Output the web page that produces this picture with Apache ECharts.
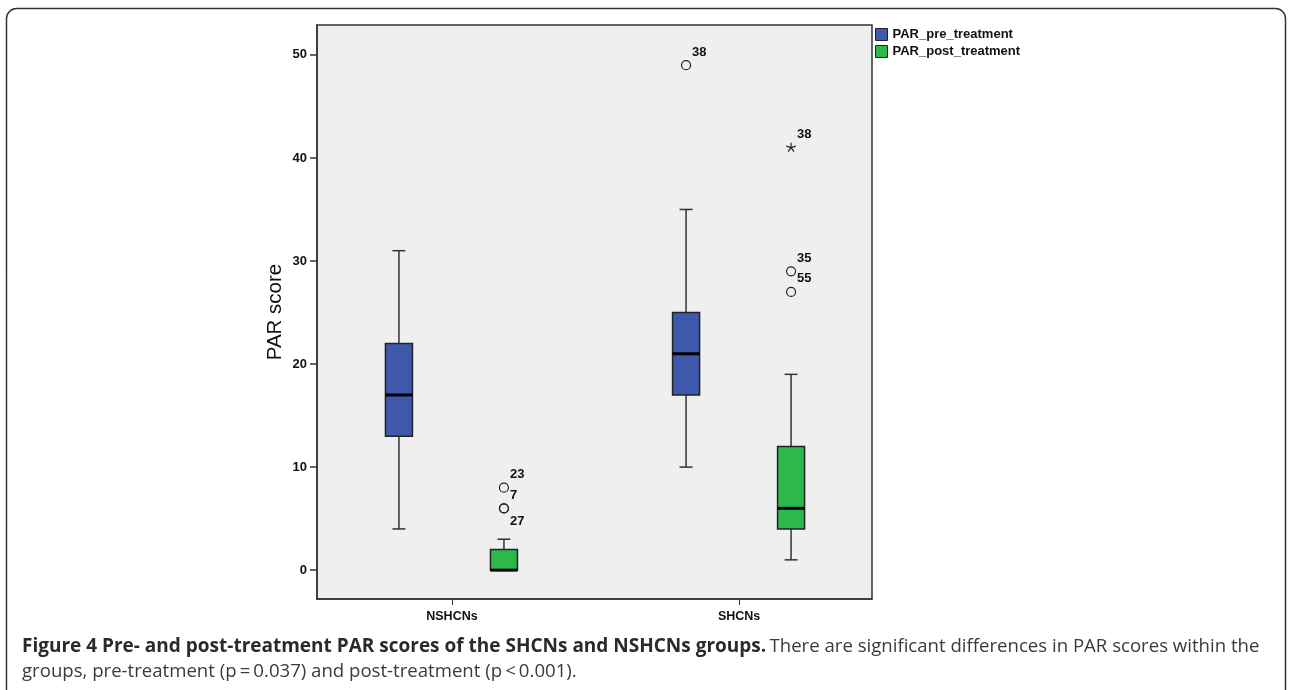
<!DOCTYPE html>
<html><head><meta charset="utf-8">
<script src="https://cdn.jsdelivr.net/npm/echarts@6/dist/echarts.min.js"></script>
<style>html,body{margin:0;padding:0;background:#fff}#c{width:1289px;height:690px}</style>
</head><body><div id="c"></div>
<script>
// ---- data ----
const categories = ['NSHCNs', 'SHCNs'];
const seriesNames = ['PAR_pre_treatment', 'PAR_post_treatment'];
// per category: [min, Q1, median, Q3, max]
const preBox = [[4, 13, 17, 22, 31], [10, 17, 21, 25, 35]];
const postBox = [[0, 0, 0, 2, 3], [1, 4, 6, 12, 19]];
// outliers: [categoryIndex, value, caseLabel, marker, labelSide]
const preOutliers = [[1, 49, '38', 'o', 'up']];
const postOutliers = [
  [0, 8, '23', 'o', 'up'], [0, 6, '7', 'o', 'up'], [0, 6, '27', 'o', 'down'],
  [1, 41, '38', '*', 'up'], [1, 29, '35', 'o', 'up'], [1, 27, '55', 'o', 'up']
];
const yTicks = [0, 10, 20, 30, 40, 50];
const xTicks = [0, 1];
const captionBold = 'Figure 4 Pre- and post-treatment PAR scores of the SHCNs and NSHCNs groups.';
const captionLine1 = 'There are significant differences in PAR scores within the';
const captionLine2 = 'groups, pre-treatment (p\u2009=\u20090.037) and post-treatment (p\u2009<\u20090.001).';

// ---- style ----
const colors = ['#3e58ab', '#2db84b'];
const offsets = [-53, 52];
const lineStroke = '#333';
const labelFont = 'Arial, "Liberation Sans", sans-serif';

function boxRender(offset, color) {
  return function (params, api) {
    const ci = api.value(0);
    const x = api.coord([ci, 0])[0] + offset;
    const y = v => api.coord([ci, v])[1];
    const ymin = y(api.value(1)), q1 = y(api.value(2)), med = y(api.value(3)),
      q3 = y(api.value(4)), ymax = y(api.value(5));
    const hw = 13.5, cw = 6.5;
    const ls = { stroke: lineStroke, lineWidth: 1.5 };
    const ch = [];
    if (ymax < q3 - 0.5) {
      ch.push({ type: 'line', shape: { x1: x, y1: q3, x2: x, y2: ymax }, style: ls });
      ch.push({ type: 'line', shape: { x1: x - cw, y1: ymax, x2: x + cw, y2: ymax }, style: ls });
    }
    if (ymin > q1 + 0.5) {
      ch.push({ type: 'line', shape: { x1: x, y1: q1, x2: x, y2: ymin }, style: ls });
      ch.push({ type: 'line', shape: { x1: x - cw, y1: ymin, x2: x + cw, y2: ymin }, style: ls });
    }
    ch.push({ type: 'rect', shape: { x: x - hw, y: q3, width: 2 * hw, height: q1 - q3 },
      style: { fill: color, stroke: '#222', lineWidth: 1.5 } });
    ch.push({ type: 'line', shape: { x1: x - hw, y1: med, x2: x + hw, y2: med },
      style: { stroke: '#000', lineWidth: 3 } });
    return { type: 'group', children: ch };
  };
}

function outlierRender(offset, list) {
  return function (params, api) {
    const d = list[params.dataIndex];
    const p = api.coord([d[0], d[1]]);
    const x = p[0] + offset, y = p[1];
    const ch = [];
    if (d[3] === 'o') {
      ch.push({ type: 'circle', shape: { cx: x, cy: y, r: 4.5 },
        style: { fill: 'none', stroke: '#222', lineWidth: 1.2 } });
    } else {
      for (let k = 0; k < 5; k++) {
        const a = (-90 + k * 72) * Math.PI / 180;
        ch.push({ type: 'line', shape: { x1: x, y1: y, x2: x + 5 * Math.cos(a), y2: y + 5 * Math.sin(a) },
          style: { stroke: '#222', lineWidth: 1.2 } });
      }
    }
    ch.push({ type: 'text', style: { text: d[2], x: x + 6, y: y + (d[4] === 'up' ? -13 : 13),
      fill: '#111', font: 'bold 13px ' + labelFont,
      align: 'left', verticalAlign: 'middle' } });
    return { type: 'group', children: ch };
  };
}

const chart = echarts.init(document.getElementById('c'));
chart.setOption({
  animation: false,
  backgroundColor: '#fff',
  grid: { left: 317, top: 25, width: 555, height: 574, show: true,
    backgroundColor: '#efefef', borderColor: '#333', borderWidth: 1.5 },
  legend: {
    data: seriesNames, orient: 'vertical', left: 875, top: 28, padding: 0,
    icon: 'rect', itemWidth: 12, itemHeight: 12, itemGap: 4,
    itemStyle: { borderColor: '#222', borderWidth: 1 },
    textStyle: { fontFamily: labelFont, fontWeight: 'bold', fontSize: 13, color: '#111' }
  },
  xAxis: {
    type: 'value', min: -0.470, max: 1.463,
    splitLine: { show: false },
    axisLine: { show: true, onZero: false, lineStyle: { color: '#333', width: 1.5 } },
    axisTick: { show: true, customValues: xTicks, length: 6, lineStyle: { color: '#333' } },
    axisLabel: { customValues: xTicks, formatter: v => categories[v] || '', margin: 11,
      fontFamily: labelFont, fontWeight: 'bold', fontSize: 12.5, color: '#111' }
  },
  yAxis: {
    type: 'value', min: -2.8, max: 52.9,
    name: 'PAR score', nameLocation: 'middle', nameGap: 31,
    nameTextStyle: { fontFamily: labelFont, fontSize: 20.5, color: '#111' },
    splitLine: { show: false },
    axisLine: { show: true, onZero: false, lineStyle: { color: '#333', width: 1.5 } },
    axisTick: { show: true, customValues: yTicks, length: 7, lineStyle: { color: '#333', width: 1.5 } },
    axisLabel: { customValues: yTicks, margin: 10,
      fontFamily: labelFont, fontWeight: 'bold', fontSize: 13, color: '#111' }
  },
  series: [
    { name: seriesNames[0], type: 'custom', itemStyle: { color: colors[0] },
      renderItem: boxRender(offsets[0], colors[0]), encode: { x: 0, y: [1, 2, 3, 4, 5] },
      data: preBox.map((b, i) => [i].concat(b)) },
    { name: seriesNames[1], type: 'custom', itemStyle: { color: colors[1] },
      renderItem: boxRender(offsets[1], colors[1]), encode: { x: 0, y: [1, 2, 3, 4, 5] },
      data: postBox.map((b, i) => [i].concat(b)) },
    { name: seriesNames[0], type: 'custom', renderItem: outlierRender(offsets[0], preOutliers),
      encode: { x: 0, y: 1 }, data: preOutliers.map(o => [o[0], o[1]]) },
    { name: seriesNames[1], type: 'custom', renderItem: outlierRender(offsets[1], postOutliers),
      encode: { x: 0, y: 1 }, data: postOutliers.map(o => [o[0], o[1]]) }
  ],
  graphic: [
    { type: 'rect', shape: { x: 6.5, y: 8.5, width: 1279, height: 720, r: 10 },
      style: { fill: 'none', stroke: '#333', lineWidth: 1.5 }, silent: true },
    { type: 'text', left: 22, top: 637,
      style: { text: '{b|' + captionBold + '} {n|' + captionLine1 + '}\n{n|' + captionLine2 + '}',
        rich: {
          b: { fontFamily: '"Open Sans"', fontWeight: 'bold', fontSize: 19, fill: '#2a2a2a', lineHeight: 25 },
          n: { fontFamily: '"Open Sans"', fontSize: 18.6, fill: '#3a3a3a', lineHeight: 25 }
        } } }
  ]
});
</script></body></html>
